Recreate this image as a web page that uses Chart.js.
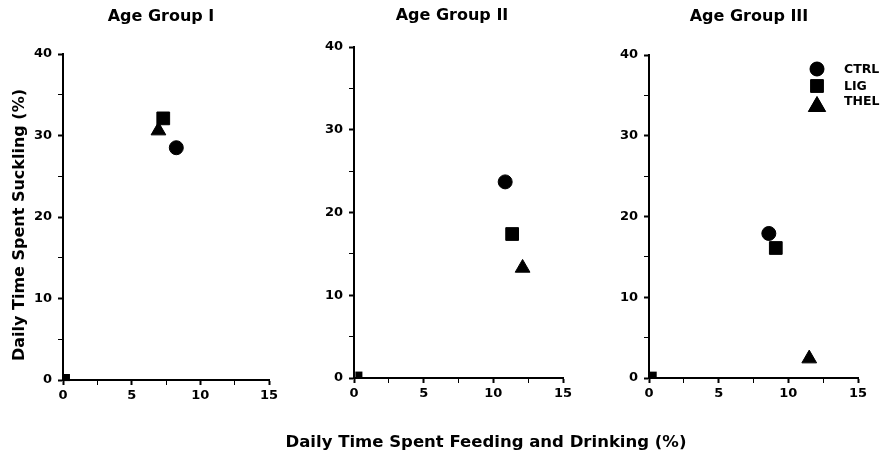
<!DOCTYPE html>
<html>
<head>
<meta charset="utf-8">
<script src="https://cdn.jsdelivr.net/npm/chart.js@4/dist/chart.umd.min.js"></script>
<style>
  html, body { margin: 0; padding: 0; background: #fff; }
  body { width: 886px; height: 454px; position: relative; overflow: hidden; font-family: "DejaVu Sans", sans-serif; font-weight: bold; color: #000; }
  .panel { position: absolute; top: 0; height: 454px; }
  .txt { position: absolute; white-space: nowrap; font-weight: bold; color: #000; }
  .title { font-size: 16px; line-height: 16px; text-align: center; width: 200px; }
</style>
</head>
<body>
<div class="panel" id="p0" style="left:0px;width:295px;"><canvas id="c0"></canvas></div>
<div class="panel" id="p1" style="left:295px;width:295px;"><canvas id="c1"></canvas></div>
<div class="panel" id="p2" style="left:590px;width:296px;"><canvas id="c2"></canvas></div>

<div class="txt title" id="t0" style="left:61px;top:8px;"></div>
<div class="txt title" id="t1" style="left:352px;top:7px;"></div>
<div class="txt title" id="t2" style="left:649px;top:8px;"></div>
<div class="txt" id="ylab" style="font-size:16px;line-height:16px;width:300px;text-align:center;left:-131px;top:217px;transform:rotate(-90deg);"></div>
<div class="txt" id="xlab" style="font-size:16.5px;line-height:17px;width:500px;text-align:center;left:236px;top:433px;"></div>

<script>
// ---- data ----
const groupTitles = ['Age Group I', 'Age Group II', 'Age Group III'];
const seriesNames = ['CTRL', 'LIG', 'THEL'];
const xAxisLabel = 'Daily Time Spent Feeding and Drinking (%)';
const yAxisLabel = 'Daily Time Spent Suckling (%)';
const xTickValues = [0, 5, 10, 15];
const yTickValues = [0, 10, 20, 30, 40];

// feeding & drinking (x), suckling (y), per age group
const ctrlFeeding  = [8.25, 10.85, 8.6];
const ctrlSuckling = [28.5, 23.7, 17.9];
const ligFeeding   = [7.3, 11.35, 9.1];
const ligSuckling  = [32.1, 17.4, 16.1];
const thelFeeding  = [6.95, 12.1, 11.5];
const thelSuckling = [30.6, 13.3, 2.4];
// small mark near the origin in each panel
const originX = [0.25, 0.35, 0.3];
const originY = [0.3, 0.35, 0.35];

// ---- layout / style ----
const styles = [
  { style: 'circle',   radius: 7 },
  { style: 'rect',     radius: 9 },
  { style: 'triangle', radius: 8.5 }
];
const seriesX = [ctrlFeeding, ligFeeding, thelFeeding];
const seriesY = [ctrlSuckling, ligSuckling, thelSuckling];
const paddings = [
  { left: 23, right: 26, top: 54, bottom: 44 },
  { left: 19, right: 27, top: 47, bottom: 46 },
  { left: 19, right: 28, top: 55, bottom: 46 }
];

groupTitles.forEach((t, i) => { document.getElementById('t' + i).textContent = t; });
document.getElementById('ylab').textContent = yAxisLabel;
document.getElementById('xlab').textContent = xAxisLabel;

const tickFont = { family: 'DejaVu Sans', weight: 'bold', size: 13 };

const legendPlugin = {
  id: 'insideLegend',
  afterDatasetsDraw(chart, args, opts) {
    if (!opts || !opts.show) return;
    const ctx = chart.ctx;
    ctx.save();
    const rows = [
      { mx: 227, my: 69, ty: 70 },
      { mx: 227, my: 86, ty: 87 },
      { mx: 227, my: 106.5, ty: 102 }
    ];
    const legendRadius = [7, 9, 10];
    chart.data.datasets.filter(d => seriesNames.includes(d.label)).forEach((d, k) => {
      const r = rows[k];
      ctx.fillStyle = '#000';
      ctx.strokeStyle = '#000';
      ctx.lineWidth = 1;
      Chart.helpers.drawPoint(ctx, { pointStyle: d.pointStyle, radius: legendRadius[k], borderWidth: 1 }, r.mx, r.my);
      ctx.fill();
      ctx.font = 'bold 12.5px "DejaVu Sans"';
      ctx.textBaseline = 'middle';
      ctx.textAlign = 'left';
      ctx.fillText(d.label, 254, r.ty);
    });
    ctx.restore();
  }
};

groupTitles.forEach((title, g) => {
  const datasets = seriesNames.map((name, s) => ({
    label: name,
    data: [{ x: seriesX[s][g], y: seriesY[s][g] }],
    pointStyle: styles[s].style,
    pointRadius: styles[s].radius,
    backgroundColor: '#000',
    borderColor: '#000',
    borderWidth: 1,
    clip: false
  }));
  datasets.push({
    label: 'origin',
    data: [{ x: originX[g], y: originY[g] }],
    pointStyle: 'rect',
    pointRadius: 5,
    backgroundColor: '#000',
    borderColor: '#000',
    borderWidth: 0,
    clip: false
  });

  new Chart(document.getElementById('c' + g), {
    type: 'scatter',
    data: { datasets },
    plugins: [legendPlugin],
    options: {
      responsive: true,
      maintainAspectRatio: false,
      animation: false,
      events: [],
      layout: { padding: paddings[g] },
      plugins: {
        legend: { display: false },
        tooltip: { enabled: false },
        title: { display: false },
        insideLegend: { show: g === 2 }
      },
      scales: {
        x: {
          type: 'linear',
          min: xTickValues[0],
          max: xTickValues[xTickValues.length - 1],
          afterFit: (s) => { s.height = 30; },
          border: { display: true, color: '#000', width: 2 },
          grid: {
            display: true,
            drawOnChartArea: false,
            drawTicks: true,
            tickLength: 5,
            tickColor: '#000',
            tickWidth: (c) => (c.tick && xTickValues.includes(c.tick.value)) ? 2 : 1
          },
          ticks: {
            stepSize: 2.5,
            autoSkip: false,
            maxRotation: 0,
            padding: 3,
            color: '#000',
            font: tickFont,
            callback: (v) => xTickValues.includes(v) ? String(v) : ''
          }
        },
        y: {
          type: 'linear',
          min: yTickValues[0],
          max: yTickValues[yTickValues.length - 1],
          afterFit: (s) => { s.width = 40; },
          border: { display: true, color: '#000', width: 2 },
          grid: {
            display: true,
            drawOnChartArea: false,
            drawTicks: true,
            tickLength: 5,
            tickColor: '#000',
            tickWidth: (c) => (c.tick && yTickValues.includes(c.tick.value)) ? 2 : 1
          },
          ticks: {
            stepSize: 5,
            autoSkip: false,
            padding: 6,
            color: '#000',
            font: tickFont,
            callback: (v) => yTickValues.includes(v) ? String(v) : ''
          }
        }
      }
    }
  });
});
</script>
</body>
</html>
